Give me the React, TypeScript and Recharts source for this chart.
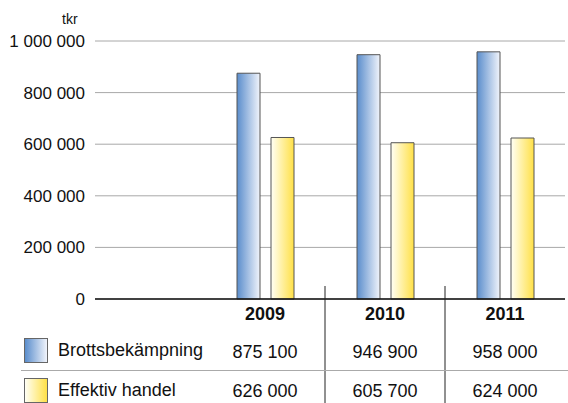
import React from "react";
import { BarChart, Bar, XAxis, YAxis, CartesianGrid } from "recharts";

const years = ["2009", "2010", "2011"];
const brottsbekampning = [875100, 946900, 958000];
const effektivHandel = [626000, 605700, 624000];
const yTicks = [0, 200000, 400000, 600000, 800000, 1000000];

const SERIES = [
  { key: "brott", name: "Brottsbekämpning", grad: "gradBlue" },
  { key: "handel", name: "Effektiv handel", grad: "gradYellow" },
];

const data = years.map((year, i) => ({
  year,
  brott: brottsbekampning[i],
  handel: effektivHandel[i],
}));

const FONT = "'Liberation Sans', Arial, sans-serif";
const WIDTH = 568;
const HEIGHT = 403;
const AXIS_Y = 299;

const fmt = (v: number) => String(v).replace(/\B(?=(\d{3})+(?!\d))/g, " ");

// year heading + the two value rows under each category, with a divider on the left
function TableTick(props: any) {
  const { x, index, payload } = props;
  const half = payload && payload.offset ? payload.offset : 60;
  return (
    <g>
      {index > 0 && (
        <line x1={x - half} x2={x - half} y1={AXIS_Y - 13} y2={HEIGHT} stroke="#222" strokeWidth={1} />
      )}
      <text x={x} y={AXIS_Y + 21} textAnchor="middle" fontFamily={FONT} fontSize={18} fontWeight="bold" fill="#111">
        {payload.value}
      </text>
      <text x={x} y={AXIS_Y + 59} textAnchor="middle" fontFamily={FONT} fontSize={18} fill="#111">
        {fmt(brottsbekampning[index])}
      </text>
      <text x={x} y={AXIS_Y + 98} textAnchor="middle" fontFamily={FONT} fontSize={18} fill="#111">
        {fmt(effektivHandel[index])}
      </text>
    </g>
  );
}

export default function App() {
  return (
    <div style={{ position: "absolute", left: 0, top: 0, width: WIDTH, height: HEIGHT, background: "#fff" }}>
      <BarChart
        width={WIDTH}
        height={HEIGHT}
        data={data}
        margin={{ top: 41, right: 3, left: 0, bottom: 0 }}
        barGap={11}
        barSize={23}
      >
        <defs>
          <linearGradient id="gradBlue" x1="0" y1="0" x2="1" y2="0">
            <stop offset="0%" stopColor="#5a8dcc" />
            <stop offset="100%" stopColor="#f1f4fb" />
          </linearGradient>
          <linearGradient id="gradYellow" x1="0" y1="0" x2="1" y2="0">
            <stop offset="0%" stopColor="#fffff6" />
            <stop offset="100%" stopColor="#ffe046" />
          </linearGradient>
        </defs>
        <CartesianGrid vertical={false} stroke="#a8a8a8" strokeWidth={1} />
        <YAxis
          width={95}
          domain={[0, 1000000]}
          ticks={yTicks}
          tickFormatter={fmt}
          axisLine={false}
          tickLine={false}
          tickMargin={4}
          tick={{ fill: "#111", fontSize: 17, fontFamily: FONT }}
        />
        <XAxis
          dataKey="year"
          height={HEIGHT - AXIS_Y}
          padding={{ left: 110, right: 0 }}
          axisLine={{ stroke: "#111", strokeWidth: 1.5 }}
          tickLine={false}
          interval={0}
          tick={<TableTick />}
        />
        {SERIES.map((s) => (
          <Bar
            key={s.key}
            dataKey={s.key}
            name={s.name}
            fill={`url(#${s.grad})`}
            stroke="#555"
            strokeWidth={1}
            isAnimationActive={false}
          />
        ))}
      </BarChart>
      <div
        style={{ position: "absolute", left: 62, top: 11, fontFamily: FONT, fontSize: 14, color: "#111" }}
      >
        tkr
      </div>
      <div style={{ position: "absolute", left: 21, top: 369.5, width: WIDTH - 21, height: 1, background: "#aaa" }} />
      {SERIES.map((s, i) => (
        <div
          key={s.key}
          style={{
            position: "absolute",
            left: 24,
            top: 338 + i * 40,
            height: 24,
            display: "flex",
            alignItems: "center",
            fontFamily: FONT,
            fontSize: 18,
            color: "#111",
          }}
        >
          <div
            style={{
              width: 22,
              height: 23,
              border: "1px solid #666",
              background: i === 0
                ? "linear-gradient(to right, #5a8dcc, #f1f4fb)"
                : "linear-gradient(to right, #fffff6, #ffe046)",
              marginRight: 10,
            }}
          />
          {s.name}
        </div>
      ))}
    </div>
  );
}
